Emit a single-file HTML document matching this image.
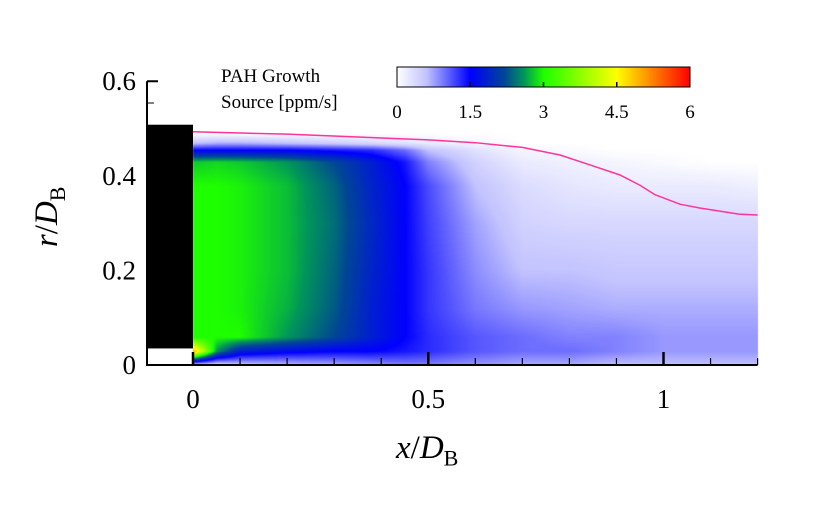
<!DOCTYPE html>
<html><head><meta charset="utf-8"><style>
body{margin:0;background:#fff;}
#wrap{position:relative;width:818px;height:514px;overflow:hidden;background:#fff;font-family:"Liberation Serif",serif;}
.t{position:absolute;white-space:nowrap;color:#000;}
</style></head><body>
<div id="wrap">
<canvas id="cv" width="818" height="514" style="position:absolute;left:0;top:0"></canvas>
<svg id="sv" width="818" height="514" style="position:absolute;left:0;top:0"></svg>
<div class="t" style="left:221px;top:66px;font-size:19px">PAH Growth</div>
<div class="t" style="left:221px;top:92px;font-size:19px">Source [ppm/s]</div>
<div class="t" style="left:0px;top:196px;font-size:33px;transform:rotate(-90deg);transform-origin:center;width:100px;text-align:center"><i>r</i>/<i>D</i><sub style="font-size:22px">B</sub></div>
<div class="t" style="left:396px;top:430px;font-size:33px"><i>x</i>/<i>D</i><sub style="font-size:22px">B</sub></div>
</div>
<script>
const xCols=[0,0.05,0.1,0.2,0.3,0.38,0.45,0.5,0.6,0.7,0.8,0.9,1.0,1.1,1.2];
const rRows=[0,0.03,0.06,0.12,0.2,0.3,0.38,0.43,0.455,0.47,0.49];
const field=[
[0.3,0.3,0.5,0.6,0.7,0.8,0.9,0.9,0.8,0.7,0.7,0.6,0.6,0.6,0.6],
[5,2.6,1.8,1.6,1.5,1.5,1.4,1.3,1.1,1.0,1.0,0.9,0.8,0.8,0.8],
[3,3,3,2.6,2.2,1.8,1.5,1.3,1.1,1.0,0.9,0.9,0.8,0.8,0.8],
[3,3,2.95,2.7,2.3,1.8,1.5,1.25,0.95,0.8,0.75,0.7,0.7,0.7,0.7],
[3,3,2.95,2.75,2.35,1.85,1.5,1.25,0.85,0.6,0.6,0.55,0.55,0.55,0.55],
[3,3,2.95,2.75,2.4,1.9,1.5,1.2,0.75,0.45,0.4,0.4,0.4,0.4,0.4],
[3,3,2.95,2.75,2.35,1.85,1.5,1.15,0.6,0.35,0.25,0.2,0.2,0.2,0.15],
[2.8,2.85,2.8,2.6,2.2,1.8,1.4,0.9,0.45,0.2,0.15,0.1,0.05,0,0],
[1.5,1.5,1.5,1.5,1.4,1.3,1.0,0.6,0.3,0.1,0.05,0,0,0,0],
[0.6,0.7,0.7,0.6,0.5,0.4,0.3,0.2,0.1,0,0,0,0,0,0],
[0,0,0,0,0,0,0,0,0,0,0,0,0,0,0]];
const boundX=[0,0.2,0.5,0.6,0.7,0.78,0.844,0.907,0.95,0.982,1.035,1.077,1.16,1.2];
const boundR=[0.493,0.488,0.476,0.47,0.46,0.444,0.423,0.402,0.38,0.36,0.34,0.332,0.319,0.317];
const xTicks=[0,0.5,1];
const yTicks=[0,0.2,0.4,0.6];
const cbTicks=[0,1.5,3,4.5,6];
const stops=[[0,[255,255,255]],[0.6,[195,195,255]],[1.5,[0,0,255]],[2.2,[0,70,150]],[2.6,[0,150,90]],[3,[30,255,0]],[4.5,[255,255,0]],[6,[255,0,0]]];
const X=x=>193+x*470.5, Y=r=>365-r*473;
const CB=v=>397+v/6*293;
function cmap(v){v=Math.max(0,Math.min(6,v));for(let i=1;i<stops.length;i++){if(v<=stops[i][0]){const a=stops[i-1],b=stops[i],t=(v-a[0])/(b[0]-a[0]);return a[1].map((c,k)=>Math.round(c+(b[1][k]-c)*t));}}return stops[stops.length-1][1];}
function seg(arr,v){for(let i=0;i<arr.length-1;i++){if(v<=arr[i+1])return[i,(v-arr[i])/(arr[i+1]-arr[i])];}return[arr.length-2,1];}
function val(x,r){const[i,tx]=seg(xCols,x),[j,ty]=seg(rRows,r);const a=field[j][i],b=field[j][i+1],c=field[j+1][i],d=field[j+1][i+1];return (a*(1-tx)+b*tx)*(1-ty)+(c*(1-tx)+d*tx)*ty;}
const cv=document.getElementById('cv'),ctx=cv.getContext('2d');
const x0=Math.round(X(0)),x1=Math.round(X(1.2)),y0=Math.round(Y(0.5)),y1=Math.round(Y(0));
const img=ctx.createImageData(x1-x0,y1-y0);
for(let py=y0;py<y1;py++)for(let px=x0;px<x1;px++){const x=(px-193)/470.5,r=(365-py)/473;const c=cmap(val(x,r));const o=((py-y0)*(x1-x0)+(px-x0))*4;img.data[o]=c[0];img.data[o+1]=c[1];img.data[o+2]=c[2];img.data[o+3]=255;}
ctx.putImageData(img,x0,y0);
const g=ctx.createLinearGradient(CB(0),0,CB(6),0);stops.forEach(s=>g.addColorStop(s[0]/6,'rgb('+s[1].join(',')+')'));
ctx.fillStyle=g;ctx.fillRect(CB(0),67,CB(6)-CB(0),20);
const NS='http://www.w3.org/2000/svg',sv=document.getElementById('sv');
function el(t,a){const e=document.createElementNS(NS,t);for(const k in a)e.setAttribute(k,a[k]);sv.appendChild(e);return e;}
let e;
e=el('rect',{x:146,y:Y(0.508),width:X(0)-146,height:Y(0.035)-Y(0.508),fill:'#000'});

e=el('polyline',{points:boundX.map((x,i)=>X(x)+','+Y(boundR[i])).join(' '),fill:'none',stroke:'#ff3399','stroke-width':1.5,'stroke-linejoin':'round'});

e=el('path',{d:`M147 ${Y(0.6)} H158 M147 ${Y(0.6)} V365 H${X(1.2)}`,fill:'none',stroke:'#000','stroke-width':2});

for(let k=-1;k<=12;k++){const x=k/10;if(X(x)<147)continue;const maj=k%5===0;
e=el('line',{x1:X(x),x2:X(x),y1:365,y2:maj?352:358,stroke:'#000','stroke-width':maj?2.5:1.2});
}
e=el('line',{x1:147,x2:154,y1:103,y2:103,stroke:'#000','stroke-width':1});

xTicks.forEach(v=>{e=el('text',{x:X(v),y:408,'font-size':27,'text-anchor':'middle','font-family':'Liberation Serif,serif'});e.textContent=String(v);
});
yTicks.forEach(v=>{e=el('text',{x:136,y:Y(v)+9,'font-size':27,'text-anchor':'end','font-family':'Liberation Serif,serif'});e.textContent=v===0?'0':v.toFixed(1);
});
e=el('rect',{x:CB(0),y:67,width:CB(6)-CB(0),height:20,fill:'none',stroke:'#000','stroke-width':1});

cbTicks.forEach(v=>{if(v>0&&v<6){e=el('line',{x1:CB(v),x2:CB(v),y1:87,y2:82,stroke:'#000','stroke-width':1.5});}
e=el('text',{x:CB(v),y:118,'font-size':19,'text-anchor':'middle','font-family':'Liberation Serif,serif'});e.textContent=String(v);
});
</script>
</body></html>
